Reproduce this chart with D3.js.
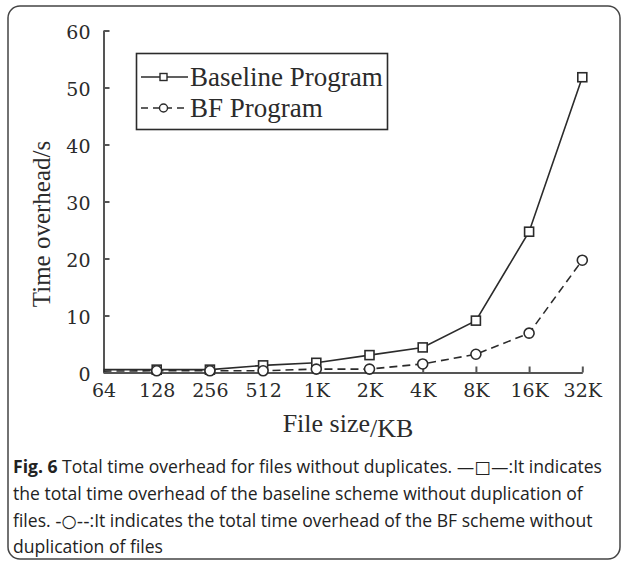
<!DOCTYPE html>
<html>
<head>
<meta charset="utf-8">
<script src="https://cdn.jsdelivr.net/npm/d3@7"></script>
<style>
  body { margin: 0; background: #fff; }
  svg { display: block; }
</style>
</head>
<body>
<div id="chart"></div>
<script>
// file sizes on the x axis and the two measured series (seconds)
const fileSizes = ['64', '128', '256', '512', '1K', '2K', '4K', '8K', '16K', '32K'];
const baselineTimes = [0.5, 0.5, 0.5, 1.25, 1.7, 3.05, 4.4, 9.1, 24.7, 51.8];
const bfTimes = [0.25, 0.3, 0.3, 0.3, 0.6, 0.6, 1.5, 3.2, 6.9, 19.7];
const yTicks = [0, 10, 20, 30, 40, 50, 60];
const legendLabels = ['Baseline Program', 'BF Program'];
const captionLines = [
  'Total time overhead for files without duplicates. ',
  'the total time overhead of the baseline scheme without duplication of',
  'files. ',
  'duplication of files'
];

const width = 627, height = 562;
const ink = '#2b2b2b';
const serif = '"Liberation Serif", "Times New Roman", serif';
const tickFont = '"DejaVu Serif", serif';
const sans = '"Open Sans", "Noto Sans", sans-serif';

const svg = d3.select('#chart').append('svg')
  .attr('width', width)
  .attr('height', height);

// rounded figure frame
svg.append('rect')
  .attr('x', 8).attr('y', 6)
  .attr('width', 612).attr('height', 553)
  .attr('rx', 12)
  .attr('fill', 'none')
  .attr('stroke', '#444')
  .attr('stroke-width', 1.5);

const x = d3.scalePoint().domain(fileSizes).range([103.5, 582.3]);
const y = d3.scaleLinear().domain([0, 60]).range([372.5, 30.5]);

// axes (ticks point inwards)
const yAxis = svg.append('g')
  .attr('transform', `translate(${x(fileSizes[0])},0)`)
  .call(d3.axisLeft(y).tickValues(yTicks).tickSize(-6).tickSizeOuter(0).tickPadding(13));

const xAxis = svg.append('g')
  .attr('transform', `translate(0,${y(0)})`)
  .call(d3.axisBottom(x).tickSize(-6).tickSizeOuter(0).tickPadding(9));

[yAxis, xAxis].forEach(g => {
  g.selectAll('path, line').attr('stroke', '#555').attr('stroke-width', 2);
  g.selectAll('text')
    .attr('fill', ink)
    .style('font-family', tickFont)
    .style('font-size', '19px');
});
yAxis.selectAll('text').attr('dy', '0.4em');
xAxis.selectAll('text').attr('dy', '0.8em');

// lines
const line = d3.line()
  .x((d, i) => x(fileSizes[i]))
  .y(d => y(d));

svg.append('path')
  .datum(baselineTimes)
  .attr('d', line)
  .attr('fill', 'none')
  .attr('stroke', ink)
  .attr('stroke-width', 1.6);

svg.append('path')
  .datum(bfTimes)
  .attr('d', line)
  .attr('fill', 'none')
  .attr('stroke', ink)
  .attr('stroke-width', 1.6)
  .attr('stroke-dasharray', '8,5');

// markers (none at the first size)
const sq = 9;
svg.selectAll('.sq')
  .data(baselineTimes.slice(1))
  .join('rect')
  .attr('class', 'sq')
  .attr('x', (d, i) => x(fileSizes[i + 1]) - sq / 2)
  .attr('y', d => y(d) - sq / 2)
  .attr('width', sq).attr('height', sq)
  .attr('fill', '#fff')
  .attr('stroke', ink)
  .attr('stroke-width', 1.6);

svg.selectAll('.circ')
  .data(bfTimes.slice(1))
  .join('circle')
  .attr('class', 'circ')
  .attr('cx', (d, i) => x(fileSizes[i + 1]))
  .attr('cy', d => y(d))
  .attr('r', 5)
  .attr('fill', '#fff')
  .attr('stroke', ink)
  .attr('stroke-width', 1.6);

// axis titles
svg.append('text')
  .attr('transform', 'translate(50,224) rotate(-90)')
  .attr('text-anchor', 'middle')
  .attr('fill', ink)
  .style('font-family', serif)
  .style('font-size', '25px')
  .text('Time overhead/s');

const xTitle = svg.append('text')
  .attr('x', 348).attr('y', 432)
  .attr('text-anchor', 'middle')
  .attr('fill', ink)
  .style('font-family', serif)
  .style('font-size', '26px');
xTitle.append('tspan').text('File size');
xTitle.append('tspan').attr('dy', 5).text('/KB');

// legend
const legend = svg.append('g');
legend.append('rect')
  .attr('x', 136.5).attr('y', 53.5)
  .attr('width', 251).attr('height', 76)
  .attr('fill', '#fff')
  .attr('stroke', ink)
  .attr('stroke-width', 1.6);

const legendY = [77, 108];
legendLabels.forEach((label, i) => {
  const g = legend.append('g').attr('transform', `translate(0,${legendY[i]})`);
  g.append('line')
    .attr('x1', 141).attr('x2', 188)
    .attr('stroke', ink).attr('stroke-width', 1.5)
    .attr('stroke-dasharray', i === 0 ? null : '7,5');
  if (i === 0) {
    g.append('rect').attr('x', 160).attr('y', -3.5).attr('width', 7).attr('height', 7)
      .attr('fill', '#fff').attr('stroke', ink).attr('stroke-width', 1.4);
  } else {
    g.append('circle').attr('cx', 163.5).attr('r', 4)
      .attr('fill', '#fff').attr('stroke', ink).attr('stroke-width', 1.4);
  }
  g.append('text')
    .attr('x', 190).attr('y', 9)
    .attr('fill', ink)
    .style('font-family', serif)
    .style('font-size', '27px')
    .text(label);
});

// caption
const caption = svg.append('g')
  .attr('fill', '#222')
  .style('font-family', sans)
  .style('font-size', '17px');
const capY = [473, 500, 527, 553];
const l1 = caption.append('text').attr('x', 13).attr('y', capY[0]);
l1.append('tspan').style('font-weight', 'bold').text('Fig. 6');
l1.append('tspan').text(' ' + captionLines[0]);
l1.append('tspan').style('font-family', '"DejaVu Sans", sans-serif').text('—□—');
l1.append('tspan').text(':It indicates');
caption.append('text').attr('x', 13).attr('y', capY[1]).text(captionLines[1]);
const l3 = caption.append('text').attr('x', 13).attr('y', capY[2]);
l3.append('tspan').text(captionLines[2]);
l3.append('tspan').style('font-family', '"DejaVu Sans", sans-serif').text('-○--');
l3.append('tspan').text(':It indicates the total time overhead of the BF scheme without');
caption.append('text').attr('x', 13).attr('y', capY[3]).text(captionLines[3]);

// scale caption font so the first line spans the frame like the original
const w1 = l1.node().getComputedTextLength();
caption.style('font-size', (17 * 589 / w1).toFixed(2) + 'px');
</script>
</body>
</html>
